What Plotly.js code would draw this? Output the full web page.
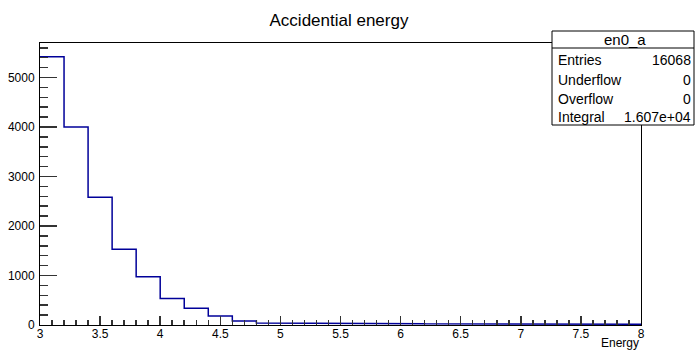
<!DOCTYPE html>
<html>
<head>
<meta charset="utf-8">
<script src="https://cdn.plot.ly/plotly-3.0.1.min.js"></script>
<style>html,body{margin:0;padding:0;background:#fff;}#chart{width:696px;height:351px;}</style>
</head>
<body>
<div id="chart"></div>
<script>
// Bin edges, bin width 0.2, range 3..8
const binEdges = [3.0,3.2,3.4,3.6,3.8,4.0,4.2,4.4,4.6,4.8,5.0,5.2,5.4,5.6,5.8,6.0,6.2,6.4,6.6,6.8,7.0,7.2,7.4,7.6,7.8,8.0];
const counts = [5420,4000,2580,1530,975,535,340,182,82,42,38,34,32,30,28,27,25,25,22,22,20,20,18,18,16];
const xTickVals = [3,3.5,4,4.5,5,5.5,6,6.5,7,7.5,8];
const xTickText = ["3","3.5","4","4.5","5","5.5","6","6.5","7","7.5","8"];
const yTickVals = [0,1000,2000,3000,4000,5000];
const yTickText = ["0","1000","2000","3000","4000","5000"];
const statLabels = ["Entries","Underflow","Overflow","Integral"];
const statValues = ["16068","0","0","1.607e+04"];

// Build step outline from bins
const sx = [], sy = [];
for (let i = 0; i < counts.length; i++) {
  sx.push(binEdges[i]); sy.push(counts[i]);
  sx.push(binEdges[i+1]); sy.push(counts[i]);
}

const W = 696, H = 351, L = 40, R = 55, T = 43, B = 26;
const pw = W - L - R, ph = H - T - B;
const px = x => (x - L) / pw;
const py = y => (H - B - y) / ph;

const font = "'Liberation Sans', Arial, sans-serif";

const shapes = [
  {type:'rect', xref:'paper', yref:'paper', x0:px(552), x1:px(694), y0:py(125), y1:py(31),
   line:{color:'black', width:1}, fillcolor:'white', layer:'above'},
  {type:'line', xref:'paper', yref:'paper', x0:px(552), x1:px(694), y0:py(48), y1:py(48),
   line:{color:'black', width:1}, layer:'above'}
];
const annotations = [
  {xref:'paper', yref:'paper', x:px(625), y:py(39.5), text:'en0_a', showarrow:false,
   xanchor:'center', yanchor:'middle', font:{family:font, size:15, color:'black'}}
];
const rowY = [60, 80, 99, 117];
for (let i = 0; i < statLabels.length; i++) {
  annotations.push({xref:'paper', yref:'paper', x:px(556), y:py(rowY[i]), text:statLabels[i],
    showarrow:false, xanchor:'left', yanchor:'middle', font:{family:font, size:14, color:'black'}});
  annotations.push({xref:'paper', yref:'paper', x:px(693), y:py(rowY[i]), text:statValues[i],
    showarrow:false, xanchor:'right', yanchor:'middle', font:{family:font, size:14, color:'black'}});
}
annotations.push({xref:'paper', yref:'paper', x:1, y:py(343), text:'Energy', showarrow:false,
  xanchor:'right', yanchor:'middle', font:{family:font, size:12, color:'black'}});

const trace = {
  x: sx, y: sy, type:'scatter', mode:'lines',
  line:{color:'#000099', width:1.5, shape:'linear'},
  hoverinfo:'skip', cliponaxis:true
};

const layout = {
  width: W, height: H,
  margin:{l:L, r:R, t:T, b:B, pad:0},
  paper_bgcolor:'white', plot_bgcolor:'white',
  showlegend:false,
  title:{text:'Accidential energy', x:339/W, xanchor:'center', y:1-20/H, yanchor:'middle',
    font:{family:font, size:17, color:'black'}},
  xaxis:{range:[3,8], tickvals:xTickVals, ticktext:xTickText, ticks:'inside', ticklen:9,
    tickcolor:'#333', tickwidth:1.5, showgrid:false, zeroline:false, showline:true, linecolor:'black',
    linewidth:1, mirror:true, tickfont:{family:font, size:12, color:'black'}, ticklabelstandoff:-2,
    minor:{dtick:0.1, tick0:3, ticks:'inside', ticklen:5, tickcolor:'#333', tickwidth:1.5, showgrid:false}},
  yaxis:{range:[0,5697], tickvals:yTickVals, ticktext:yTickText, ticks:'inside', ticklen:17,
    tickcolor:'#333', tickwidth:1.5, showgrid:false, zeroline:false, showline:true, linecolor:'black',
    linewidth:1, mirror:true, tickfont:{family:font, size:12, color:'black'}, ticklabelstandoff:2,
    minor:{dtick:200, tick0:0, ticks:'inside', ticklen:8, tickcolor:'#333', tickwidth:1.5, showgrid:false}},
  shapes: shapes,
  annotations: annotations
};

Plotly.newPlot('chart', [trace], layout, {staticPlot:true, displayModeBar:false});
</script>
</body>
</html>
